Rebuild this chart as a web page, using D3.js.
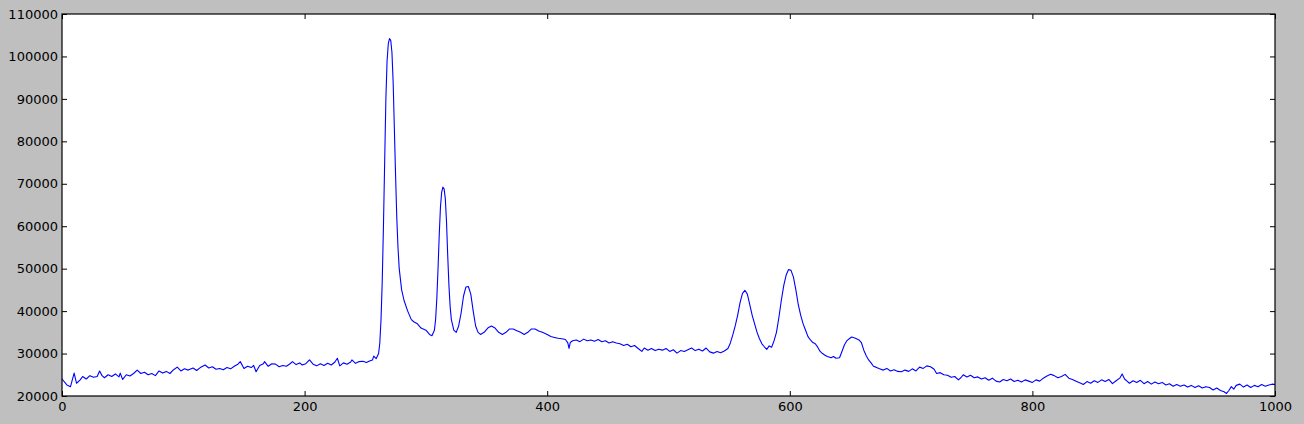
<!DOCTYPE html>
<html><head><meta charset="utf-8">
<script src="https://cdn.jsdelivr.net/npm/d3@7"></script>
<style>
html,body{margin:0;padding:0;background:#bfbfbf;}
svg{display:block;}
text{font-family:"DejaVu Sans",sans-serif;}
</style></head>
<body>
<svg id="chart" width="1304" height="424"></svg>
<script>
const xTicks = [0, 200, 400, 600, 800, 1000];
const yTicks = [20000, 30000, 40000, 50000, 60000, 70000, 80000, 90000, 100000, 110000];

const xs = [
0,4,7,10,12,15,17,20,23,26,29,31,33,35,38,41,44,47,48,50,53,56,59,62,65,68,71,74,77,80,83,86,89,92,95,98,
101,104,108,111,114,118,121,124,127,130,133,136,139,142,145,147,150,153,156,158,160,163,166,167,170,173,176,179,
182,185,188,190,193,196,198,201,204,207,210,213,216,219,222,225,227,229,232,235,238,239,242,245,248,251,254,256,257,259,261,
262,263,264,265,266,267,268,269,270,271,272,273,274,275,276,277,278,280,282,285,288,290,293,296,300,303,305,307,308,309,310,311,312,313,314,315,316,317,318,319,320,321,323,325,
327,329,331,333,335,337,339,341,343,345,348,351,354,357,360,363,366,369,372,375,378,381,384,387,390,393,396,
400,403,406,409,412,415,417,418,419,421,424,427,430,433,436,439,442,445,448,451,454,457,460,463,466,469,472,475,478,480,
483,486,489,492,495,498,501,504,507,510,513,516,519,522,525,528,531,534,537,540,543,546,549,551,553,555,557,559,561,563,
565,567,569,571,573,575,577,579,581,583,585,587,589,591,593,595,597,599,601,603,605,607,609,611,613,615,617,619,621,623,
625,627,629,631,634,636,638,641,643,645,647,649,651,653,655,657,659,661,663,665,667,669,671,674,677,680,683,686,689,692,
695,698,701,704,707,710,713,716,719,721,724,727,730,733,736,739,741,743,746,749,752,755,758,761,764,767,770,773,776,779,
782,785,788,791,794,797,800,803,806,809,812,815,818,821,824,827,830,833,836,839,842,845,848,851,854,857,860,863,866,869,
872,874,876,878,880,883,886,889,892,895,898,901,904,907,910,913,916,919,922,925,928,931,934,937,940,943,946,949,952,955,
958,960,962,964,966,968,971,974,977,980,983,986,989,992,995,998,1000
];

const ys = [
24000,22600,22200,25400,23000,23800,24600,24000,24800,24400,24600,25900,24800,24300,25000,24600,25200,24500,25400,23900,25000,24700,25300,26100,25300,25600,25000,25300,24800,25900,25400,25800,25300,26200,26800,25900,
26400,26100,26600,26000,26700,27300,26600,26900,26300,26500,26200,26700,26400,27000,27500,28100,26500,27000,26700,27200,25700,27200,27600,28100,27000,27600,27500,26900,
27200,27000,27600,28100,27400,27800,27300,27600,28500,27500,27100,27600,27200,27700,27300,28000,28900,27100,27800,27500,28000,28500,27700,28100,28200,27900,28300,28500,29400,28800,30000,
32500,38000,47000,60000,75000,90000,99000,103000,104200,103800,101000,94000,83000,72000,62000,55000,50000,45000,42500,40000,38000,37500,37000,36000,35500,34500,34200,35500,38000,43000,50000,58000,64500,68000,69200,68800,66500,61000,53000,46000,41000,38000,35500,35000,
36500,39500,43500,45700,45800,44000,40000,36500,35000,34500,35000,36000,36500,36000,35000,34500,35000,35800,35800,35400,35000,34500,35000,35800,35800,35300,35000,
34500,34000,33800,33600,33500,33300,32500,31200,32600,33000,33200,32800,33400,33000,33200,32900,33300,32800,33000,32500,32800,32500,32300,31900,32200,31600,31900,31200,30500,31300,
30800,31200,30700,31000,30800,31200,30500,30900,30100,30700,30500,30900,31300,30700,31000,30600,31300,30400,30100,30500,30200,30600,31200,32500,34400,36500,39000,42000,44200,44900,
44000,41500,39000,37000,35000,33500,32300,31600,31000,31800,31500,33000,35000,38500,42500,46000,48500,49800,49600,48000,45000,41500,39000,37000,35500,34000,33200,32600,32300,31500,
30500,30000,29600,29300,29000,29300,28900,29000,30500,32000,33000,33500,33900,33700,33500,33200,32600,30800,29500,28500,27800,27000,26800,26400,26100,26500,25900,26200,25800,25700,
26100,25800,26400,25900,26800,26500,27100,26900,26300,25300,25500,25000,24900,24400,24600,23800,24300,25000,24500,24900,24300,24500,24000,24300,23700,24200,23500,23300,23900,23600,
24000,23400,23700,23300,23800,23500,23200,23800,23500,24200,24700,25100,24800,24300,24600,25100,24200,23900,23500,23100,22700,23400,23000,23600,23200,23800,23400,23900,22900,23600,
24200,25200,24000,23500,23000,23600,23200,23700,22900,23400,22800,23300,22900,23200,22600,22900,22300,22700,22300,22600,22100,22500,22000,22400,21900,22200,22000,21400,21900,21300,
21000,20600,21300,22200,21600,22500,22800,22100,22600,22000,22500,22200,22700,22300,22600,22800,22700
];

const data = xs.map((x, i) => ({x: x, y: ys[i]}));

const svg = d3.select("#chart");
const L = 62, R = 1275, T = 14, B = 396;

const x = d3.scaleLinear().domain([0, 1000]).range([L, R]);
const y = d3.scaleLinear().domain([20000, 110000]).range([B, T]);

svg.append("rect").attr("x", L).attr("y", T).attr("width", R - L).attr("height", B - T)
  .attr("fill", "#ffffff");

svg.append("path").datum(data)
  .attr("fill", "none").attr("stroke", "#0000ff").attr("stroke-width", 1.1)
  .attr("stroke-linejoin", "round")
  .attr("d", d3.line().x(d => x(d.x)).y(d => y(d.y)));

function styleAxis(g) {
  g.select(".domain").remove();
  g.selectAll("line").attr("stroke", "#000");
  g.selectAll("text").attr("fill", "#000").style("font-size", "13px")
    .style("font-family", "'DejaVu Sans', sans-serif");
}

svg.append("g").attr("transform", `translate(${L},0)`)
  .call(d3.axisLeft(y).tickValues(yTicks).tickFormat(d3.format("d")).tickSizeInner(-5).tickSizeOuter(0).tickPadding(4))
  .call(styleAxis);
svg.append("g").attr("transform", `translate(${R},0)`)
  .call(d3.axisRight(y).tickValues(yTicks).tickFormat("").tickSizeInner(-5).tickSizeOuter(0))
  .call(styleAxis);
svg.append("g").attr("transform", `translate(0,${B})`)
  .call(d3.axisBottom(x).tickValues(xTicks).tickFormat(d3.format("d")).tickSizeInner(-5).tickSizeOuter(0).tickPadding(6))
  .call(styleAxis);
svg.append("g").attr("transform", `translate(0,${T})`)
  .call(d3.axisTop(x).tickValues(xTicks).tickFormat("").tickSizeInner(-5).tickSizeOuter(0))
  .call(styleAxis);

svg.append("rect").attr("x", L).attr("y", T).attr("width", R - L).attr("height", B - T)
  .attr("fill", "none").attr("stroke", "#000").attr("stroke-width", 1.2);
</script>
</body></html>
